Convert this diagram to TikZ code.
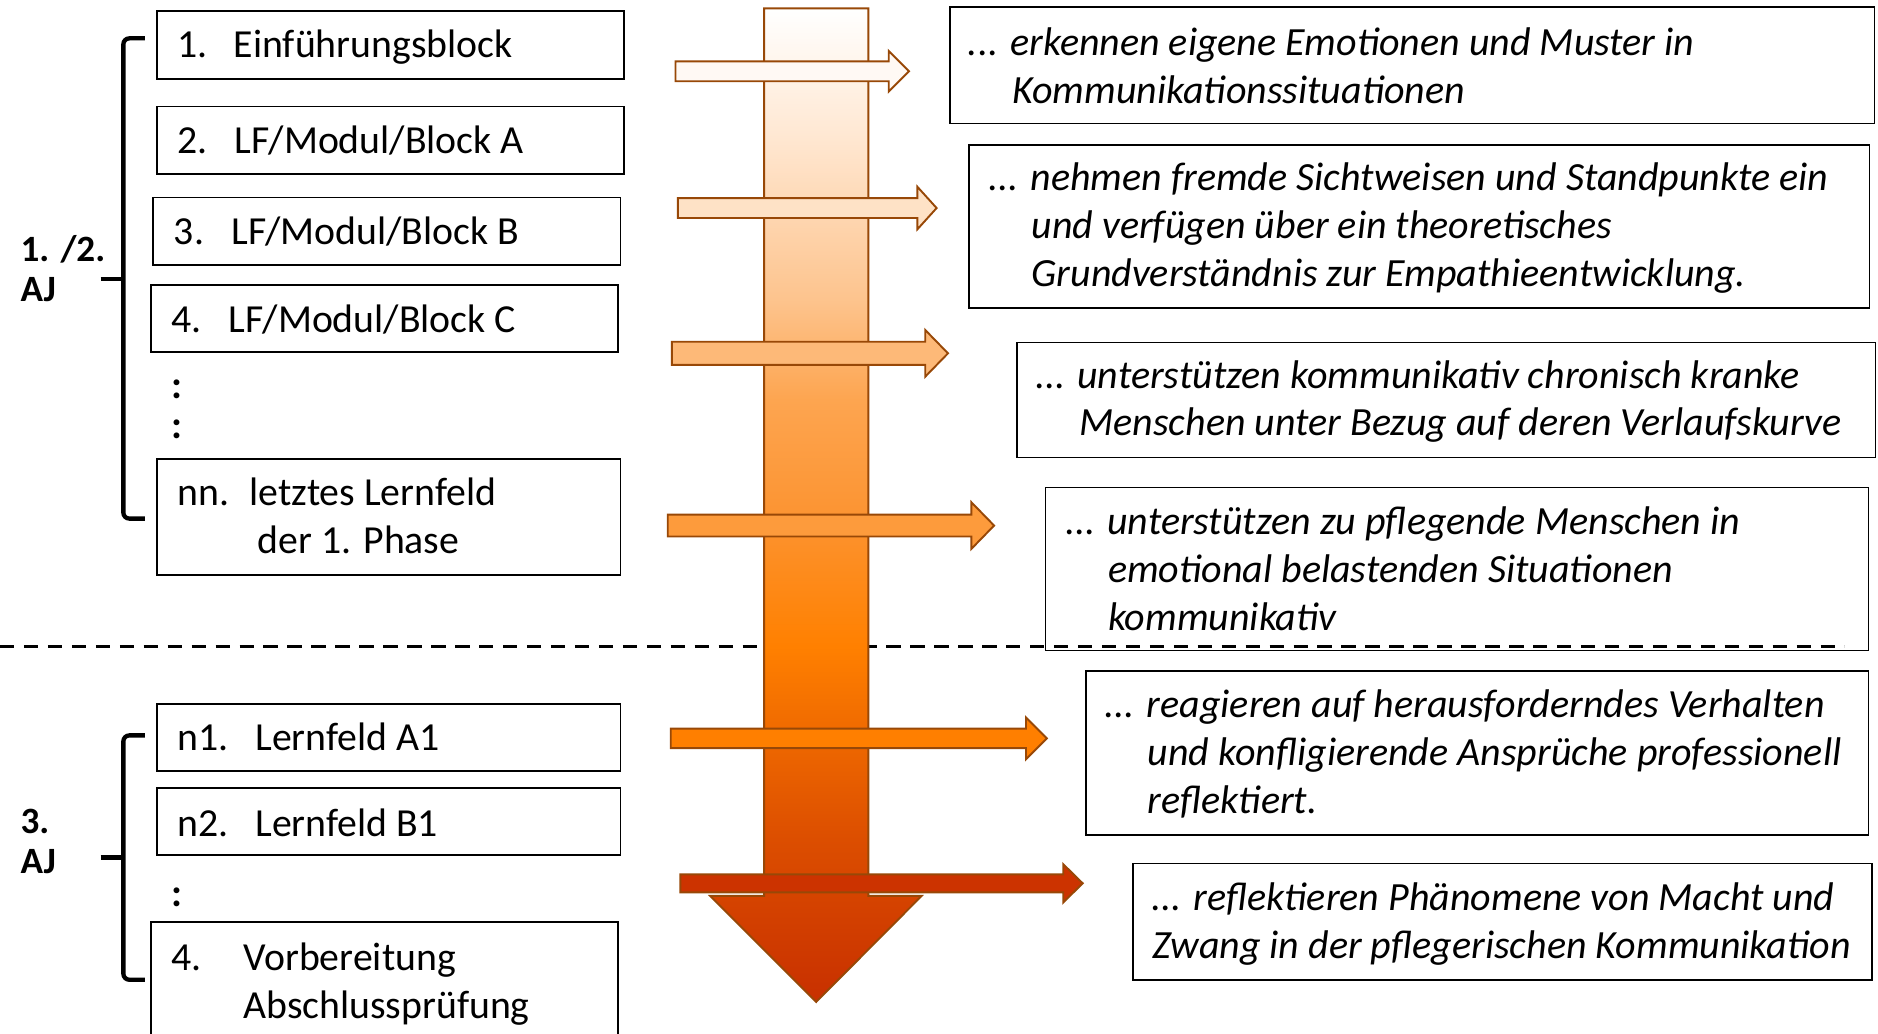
\documentclass[tikz,border=0pt]{standalone}
\usepackage{fontspec}
\setmainfont{Carlito}
\usetikzlibrary{fit}

% colours of the flow arrow and the side arrows
\definecolor{flowedge}{HTML}{984807}
\definecolor{fc1}{HTML}{FFE8D3}
\definecolor{fc2}{HTML}{FDC48E}
\definecolor{fc3}{HTML}{FDA550}
\definecolor{fc4}{HTML}{FC9432}
\definecolor{fc5}{HTML}{FF8000}
\definecolor{fc6}{HTML}{DC4E00}
\definecolor{fc7}{HTML}{C83000}
\definecolor{ha1}{HTML}{FFF9F4}
\definecolor{ha2}{HTML}{FEE2C6}
\definecolor{ha3}{HTML}{FDB978}
\definecolor{ha4}{HTML}{FD9B3C}
\definecolor{ha5}{HTML}{FF7F00}
\definecolor{ha6}{HTML}{CC3300}

% vertical gradient: the path is mapped onto 25bp (bottom) .. 75bp (top)
\pgfdeclareverticalshading{flowshade}{100bp}{%
  color(0bp)=(fc7); color(25bp)=(fc7); color(33.2bp)=(fc6);
  color(42.9bp)=(fc5); color(49.5bp)=(fc4); color(55.3bp)=(fc3);
  color(60.4bp)=(fc2); color(68.7bp)=(fc1); color(75bp)=(white);
  color(100bp)=(white)}

% a horizontal block arrow: tail x, head base x, tip x, centre y,
% half shaft height, half head height, fill colour
\newcommand\hflow[7]{%
  \draw[flowline, fill=#7]
    (#1,#4-#5) -- (#2,#4-#5) -- (#2,#4-#6) -- (#3,#4)
    -- (#2,#4+#6) -- (#2,#4+#5) -- (#1,#4+#5) -- cycle;}

\tikzset{
  boxst/.style={draw=black, line width=1.4pt, inner sep=0pt},
  lt/.style={font=\fontsize{33.2}{40}\selectfont, inner sep=0pt, anchor=base west},
  rt/.style={font=\fontsize{33.4}{40}\selectfont\itshape, inner sep=0pt, anchor=base west},
  yr/.style={font=\fontsize{31}{33.6}\selectfont\bfseries, inner sep=0pt, anchor=base west},
  flowline/.style={draw=flowedge, line width=1.6pt, line join=miter},
  bracest/.style={line width=3.6pt, rounded corners=5pt},
  dashline/.style={line width=2.2pt, dash pattern=on 12pt off 8pt},
}

\begin{document}
\begin{tikzpicture}[x=1pt, y=-1pt]
\useasboundingbox (0,0) rectangle (1568,863);

% separator between the two phases
\coordinate (dashL) at (0,540);
\coordinate (dashR) at (1540,540);
\draw[dashline] (dashL) -- (dashR);

% ---------- left column: blocks ----------
\node[boxst, fit={(131,9)(521,66)}] (b1) {};
\node[boxst, fit={(131,89)(521,145)}] (b2) {};
\node[boxst, fit={(128,165)(518,221)}] (b3) {};
\node[boxst, fit={(126,238)(516,294)}] (b4) {};
\node[boxst, fit={(131,383)(518,480)}] (bnn) {};
\node[boxst, fit={(131,588)(518,644)}] (bn1) {};
\node[boxst, fit={(131,658)(518,714)}] (bn2) {};
\node[boxst, fit={(126,770)(516,880)}] (bex) {};

\node[lt] (t1) at (148,48) {\makebox[47pt][l]{1.}Einführungsblock};
\node[lt] (t2) at (148,128) {\makebox[48pt][l]{2.}LF/Modul/Block A};
\node[lt] (t3) at (145,204) {\makebox[48pt][l]{3.}LF/Modul/Block B};
\node[lt] (t4) at (143,278) {\makebox[48pt][l]{4.}LF/Modul/Block C};
\node[lt, font=\fontsize{33}{40}\selectfont\bfseries] (d1) at (143,333) {:};
\node[lt, font=\fontsize{33}{40}\selectfont\bfseries] (d2) at (143,366) {:};
\node[lt] (tnn) at (148,422) {\makebox[60pt][l]{nn.}letztes Lernfeld};
\node[lt] (tnnb) at (215,462) {der 1. Phase};
\node[lt] (tn1) at (148,627) {\makebox[65pt][l]{n1.}Lernfeld A1};
\node[lt] (tn2) at (148,698) {\makebox[65pt][l]{n2.}Lernfeld B1};
\node[lt, font=\fontsize{33}{40}\selectfont\bfseries] (d3) at (143,757) {:};
\node[lt] (tex) at (143,810) {\makebox[60pt][l]{4.}Vorbereitung};
\node[lt] (texb) at (203,850) {Abschlussprüfung};

% ---------- braces and year labels ----------
\coordinate (brAtop) at (121,32);
\coordinate (brAbot) at (121,433);
\coordinate (brAmid) at (84,233);
\draw[bracest] (brAtop) -- (103,32) -- (103,433) -- (brAbot);
\draw[line width=3.8pt] (brAmid) -- (103,233);
\node[yr] (y12) at (17,218) {1. /2.};
\node[yr] (y12b) at (17,251.6) {AJ};

\coordinate (brBtop) at (121,614);
\coordinate (brBbot) at (121,818);
\coordinate (brBmid) at (84,716);
\draw[bracest] (brBtop) -- (103,614) -- (103,818) -- (brBbot);
\draw[line width=3.8pt] (brBmid) -- (103,716);
\node[yr] (y3) at (17,696) {3.};
\node[yr] (y3b) at (17,729.6) {AJ};

% ---------- central flow arrow ----------
\path[flowline, shading=flowshade]
  (638,7) -- (725,7) -- (725,748) -- (769.5,748) -- (681.5,836.5)
  -- (593,748) -- (638,748) -- cycle;

% ---------- side arrows ----------
\hflow{564}{742}{759}{59.5}{8.3}{17}{ha1}
\hflow{566}{766}{782}{173.7}{8.3}{17.7}{ha2}
\hflow{561}{772.5}{791.5}{295}{9.7}{19.5}{ha3}
\hflow{557.5}{811}{830}{438.8}{9.1}{19.5}{ha4}
\hflow{560}{856.6}{874}{616.5}{8.1}{17.5}{ha5}
\hflow{568}{887.7}{904}{737.5}{7.5}{16}{ha6}

% ---------- right column: competences ----------
\node[boxst, fit={(793,6)(1565,103)}] (r1) {};
\node[boxst, fit={(809,121)(1561,257)}] (r2) {};
\node[boxst, fit={(849,286)(1566,382)}] (r3) {};
\node[boxst, fit={(873,407)(1560,543)}] (r4) {};
\node[boxst, fit={(907,560)(1560,697)}] (r5) {};
\node[boxst, fit={(946,721)(1563,818)}] (r6) {};

\node[rt] (r1a) at (808,46) {... erkennen eigene Emotionen und Muster in};
\node[rt] (r1b) at (845,86) {Kommunikationssituationen};
\node[rt] (r2a) at (825,159) {... nehmen fremde Sichtweisen und Standpunkte ein};
\node[rt] (r2b) at (861,199) {und verfügen über ein theoretisches};
\node[rt] (r2c) at (861,239) {Grundverständnis zur Empathieentwicklung.};
\node[rt] (r3a) at (864,324) {... unterstützen kommunikativ chronisch kranke};
\node[rt] (r3b) at (901,364) {Menschen unter Bezug auf deren Verlaufskurve};
\node[rt] (r4a) at (889,446) {... unterstützen zu pflegende Menschen in};
\node[rt] (r4b) at (925,486) {emotional belastenden Situationen};
\node[rt] (r4c) at (925,526) {kommunikativ};
\node[rt] (r5a) at (922,599) {... reagieren auf herausforderndes Verhalten};
\node[rt] (r5b) at (958,639) {und konfligierende Ansprüche professionell};
\node[rt] (r5c) at (958,679) {reflektiert.};
\node[rt] (r6a) at (961,760) {... reflektieren Phänomene von Macht und};
\node[rt] (r6b) at (962,800) {Zwang in der pflegerischen Kommunikation};
\end{tikzpicture}
\end{document}
